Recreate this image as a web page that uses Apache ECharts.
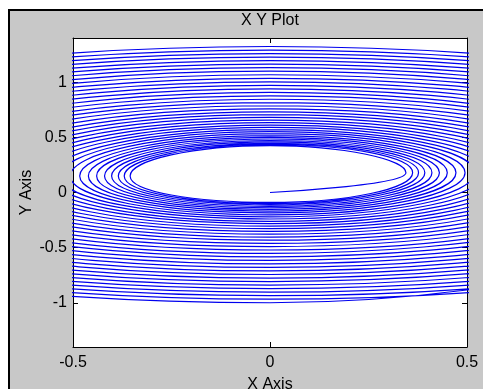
<!DOCTYPE html>
<html lang="en">
<head>
  <meta charset="UTF-8">
  <script type="text/javascript" src="https://cdn.jsdelivr.net/npm/echarts@6/dist/echarts.min.js"></script>
  <title>X Y Plot</title>
  <style type="text/css">
    * {
      margin: 0;
      padding: 0;
    }

    html, body {
      width: 483px;
      height: 389px;
      background: #fff;
      overflow: hidden;
    }

    .frame {
      position: absolute;
      left: 8px;
      top: 9px;
      width: 480px;
      height: 390px;
      background: #c8c8c8;
      border-left: 2px solid #000;
      border-top: 2px solid #000;
    }

    #chartbox {
      position: absolute;
      left: 0;
      top: 0;
      width: 483px;
      height: 389px;
    }
  </style>
</head>

<body>
<div class="frame"></div>
<div id="chartbox"></div>
</body>
<script type="text/javascript">
  // 起点
  let startPoint = [0, 0]
  // 每一圈的四个极值点（从图上读出来的）
  let rightX = [0.345, 0.362, 0.377, 0.393, 0.411, 0.430, 0.450, 0.472, 0.495, 0.520, 0.545, 0.573, 0.601, 0.631, 0.663, 0.696, 0.730, 0.765, 0.802, 0.840, 0.880, 0.921, 0.964, 1.006, 1.050, 1.094, 1.139, 1.183, 1.227, 1.271, 1.315, 1.359, 1.404, 1.448, 1.492, 1.536, 1.580]
  let topY = [0.425, 0.435, 0.446, 0.458, 0.471, 0.485, 0.500, 0.516, 0.533, 0.551, 0.570, 0.590, 0.611, 0.633, 0.656, 0.680, 0.705, 0.731, 0.758, 0.786, 0.815, 0.845, 0.876, 0.907, 0.939, 0.971, 1.003, 1.035, 1.067, 1.099, 1.131, 1.163, 1.195, 1.227, 1.259, 1.291, 1.323]
  let leftX = [-0.355, -0.370, -0.385, -0.402, -0.420, -0.440, -0.461, -0.483, -0.507, -0.532, -0.559, -0.587, -0.616, -0.647, -0.679, -0.712, -0.747, -0.783, -0.821, -0.860, -0.900, -0.942, -0.985, -1.028, -1.072, -1.116, -1.161, -1.205, -1.249, -1.293, -1.337, -1.381, -1.426, -1.470, -1.514, -1.558, -1.602]
  let bottomY = [-0.090, -0.100, -0.112, -0.125, -0.138, -0.153, -0.168, -0.185, -0.202, -0.221, -0.240, -0.261, -0.282, -0.305, -0.328, -0.353, -0.378, -0.405, -0.432, -0.461, -0.490, -0.521, -0.552, -0.583, -0.615, -0.647, -0.679, -0.711, -0.743, -0.775, -0.807, -0.839, -0.871, -0.903, -0.935, -0.967, -0.999]
  // 终点（最外圈右侧）
  let endPoint = [1.624, 0.18]
  // 左右极值点的y
  let rightY = 0.18
  let leftY = 0.15

  let xTicks = [-0.5, 0, 0.5]

  let myChart = echarts.init(document.getElementById('chartbox'))

  // 按顺序拼成螺旋线
  let spiral = [startPoint]
  for (let i = 0; i < topY.length; i++) {
    spiral.push([rightX[i], rightY])
    spiral.push([0, topY[i]])
    spiral.push([leftX[i], leftY])
    spiral.push([0, bottomY[i]])
  }
  spiral.push(endPoint)

  let font = 'Liberation Sans, Arial, Helvetica, sans-serif'
  let blackLine = {show: true, onZero: false, lineStyle: {color: '#000', width: 1}}
  let inTick = {show: true, inside: true, length: 5, lineStyle: {color: '#000'}}

  let option = {
    backgroundColor: 'transparent',
    animation: false,
    textStyle: {
      fontFamily: font
    },
    grid: {
      left: 73,
      right: 16,
      top: 38,
      bottom: 42,
      outerBoundsMode: 'none',
      containLabel: false,
      show: true,
      backgroundColor: '#fff',
      borderWidth: 0
    },
    xAxis: [
      {
        type: 'value',
        position: 'bottom',
        min: xTicks[0],
        max: xTicks[xTicks.length - 1],
        interval: 0.5,
        name: 'X Axis',
        nameLocation: 'middle',
        nameGap: 30,
        nameMoveOverlap: false,
        nameTextStyle: {color: '#000', fontSize: 16, fontFamily: font},
        axisLine: blackLine,
        axisTick: inTick,
        axisLabel: {color: '#000', fontSize: 16, margin: 8, fontFamily: font},
        splitLine: {show: false}
      },
      {
        type: 'value',
        position: 'top',
        min: xTicks[0],
        max: xTicks[xTicks.length - 1],
        interval: 0.5,
        name: 'X Y Plot',
        nameLocation: 'middle',
        nameGap: 9,
        nameTextStyle: {color: '#000', fontSize: 16, fontFamily: font},
        axisLine: blackLine,
        axisTick: inTick,
        axisLabel: {show: false},
        splitLine: {show: false}
      }
    ],
    yAxis: [
      {
        type: 'value',
        position: 'left',
        min: -1.4,
        max: 1.4,
        splitNumber: 5,
        name: 'Y Axis',
        nameLocation: 'middle',
        nameGap: 38,
        nameMoveOverlap: false,
        nameTextStyle: {color: '#000', fontSize: 16, fontFamily: font},
        axisLine: blackLine,
        axisTick: inTick,
        axisLabel: {color: '#000', fontSize: 16, margin: 6, fontFamily: font, showMinLabel: false, showMaxLabel: false},
        splitLine: {show: false}
      },
      {
        type: 'value',
        position: 'right',
        min: -1.4,
        max: 1.4,
        splitNumber: 5,
        axisLine: blackLine,
        axisTick: inTick,
        axisLabel: {show: false},
        splitLine: {show: false}
      }
    ],
    series: [
      {
        type: 'line',
        xAxisIndex: 0,
        yAxisIndex: 0,
        data: spiral,
        smooth: 0.55,
        showSymbol: false,
        symbol: 'none',
        clip: true,
        lineStyle: {
          color: '#0000ee',
          width: 1.2
        }
      }
    ]
  };

  myChart.setOption(option);
</script>
</html>
